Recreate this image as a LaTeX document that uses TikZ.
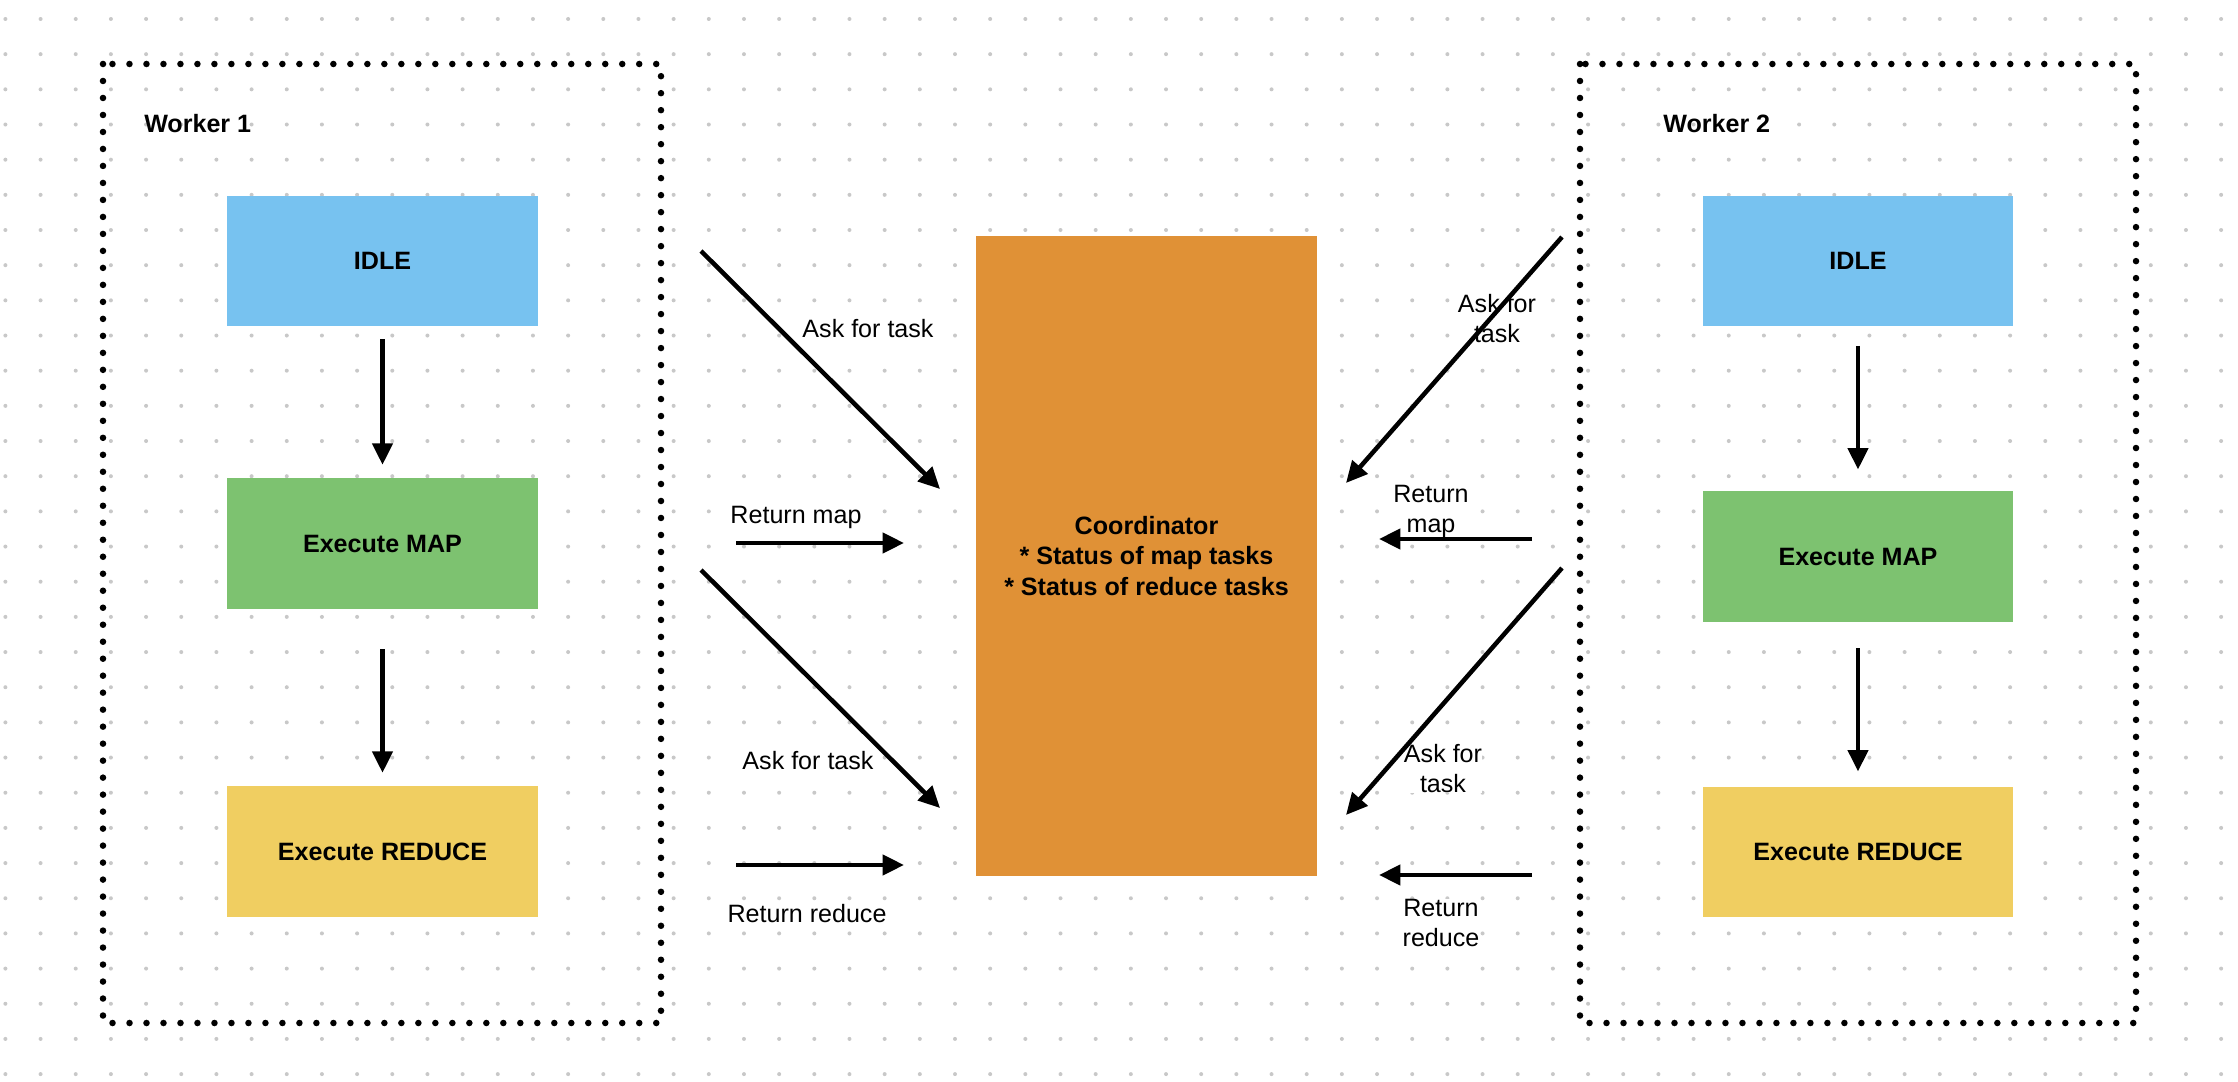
\documentclass[tikz,border=0pt]{standalone}
\usepackage{fontspec}
\setmainfont{Liberation Sans}
\usetikzlibrary{arrows.meta}
\definecolor{idleblue}{HTML}{77C2F0}
\definecolor{mapgreen}{HTML}{7DC270}
\definecolor{reduceyellow}{HTML}{F0CE61}
\definecolor{coordorange}{HTML}{E09136}
\definecolor{griddot}{HTML}{C8C8C8}

\begin{document}
\begin{tikzpicture}[->,>={Triangle[length=0.3cm,width=0.28cm]}
  ,x=0.014cm,y=-0.014cm
  ,line width=1.8pt]
  \tikzstyle{every node}=[inner sep=0pt]
  \tikzstyle{task}=[minimum width=4.354cm,minimum height=1.834cm,font=\bfseries]
  \tikzstyle{worker}=[-,line width=2.6pt,dash pattern=on 0pt off 0.238cm,line cap=round]
  \tikzstyle{lbl}=[fill=white,anchor=north,align=center]

  \useasboundingbox (0,0) rectangle (2238,1082);
  % white sheet with the dot grid
  \fill[white] (0,0) rectangle (2238,1082);
  \foreach \i in {0,...,63}
    \foreach \j in {0,...,30}
      \fill[griddot] (5.4+35.17*\i,19+35.17*\j) circle (0.028cm);

  % dotted frames of the two workers
  \draw[worker] (103,64) rectangle (661,1023);
  \draw[worker] (1580,64) rectangle (2136,1023);
  \node[anchor=north west,font=\bfseries] (wone) at (142,112) {Worker 1};
  \node[anchor=north west,font=\bfseries] (wtwo) at (1661,112) {Worker 2};

  % worker 1 states
  \node[task,fill=idleblue] (idleA) at (382.5,261) {IDLE};
  \node[task,fill=mapgreen] (mapA) at (382.5,543.5) {Execute MAP};
  \node[task,fill=reduceyellow] (reduceA) at (382.5,851.5) {Execute REDUCE};
  % worker 2 states
  \node[task,fill=idleblue] (idleB) at (1858,261) {IDLE};
  \node[task,fill=mapgreen] (mapB) at (1858,556.5) {Execute MAP};
  \node[task,fill=reduceyellow] (reduceB) at (1858,852) {Execute REDUCE};

  % coordinator
  \node[fill=coordorange,minimum width=4.774cm,minimum height=8.96cm
  ,align=center,font=\bfseries] (coord) at (1146.5,556)
  {Coordinator\\ * Status of map tasks\\ * Status of reduce tasks};

  % message labels
  \node[lbl] (askAl) at (868,317) {Ask for task};
  \node[lbl] (retAl) at (796,504) {Return map};
  \node[lbl] (askBl) at (808,749) {Ask for task};
  \node[lbl] (redAl) at (807,902) {Return reduce};
  \node[lbl] (askCl) at (1497,292) {Ask for\\task};
  \node[lbl] (retCl) at (1431,483) {Return\\map};
  \node[lbl] (askDl) at (1443,742) {Ask for\\task};
  \node[lbl] (redCl) at (1441,897) {Return\\reduce};

  % free ends of the messages
  \coordinate (askAs) at (701,251);   \coordinate (askAt) at (940,489);
  \coordinate (retAs) at (736,543);   \coordinate (retAt) at (904,543);
  \coordinate (askBs) at (701,570);   \coordinate (askBt) at (940,808);
  \coordinate (redAs) at (736,865);   \coordinate (redAt) at (904,865);
  \coordinate (askCs) at (1562,237);  \coordinate (askCt) at (1346,483);
  \coordinate (retCs) at (1532,539);  \coordinate (retCt) at (1379,539);
  \coordinate (askDs) at (1562,568);  \coordinate (askDt) at (1346,815);
  \coordinate (redCs) at (1532,875);  \coordinate (redCt) at (1379,875);

  \path
  (idleA) edge[shorten <=0.147cm,shorten >=0.154cm] (mapA)
  (mapA) edge[shorten <=0.53cm,shorten >=0.154cm] (reduceA)
  (idleB) edge[shorten <=0.24cm,shorten >=0.27cm] (mapB)
  (mapB) edge[shorten <=0.34cm,shorten >=0.18cm] (reduceB);

  \path
  (askAs) edge (askAt)
  (retAs) edge (retAt)
  (askBs) edge (askBt)
  (redAs) edge (redAt)
  (askCs) edge (askCt)
  (retCs) edge (retCt)
  (askDs) edge (askDt)
  (redCs) edge (redCt);

\end{tikzpicture}
\end{document}
